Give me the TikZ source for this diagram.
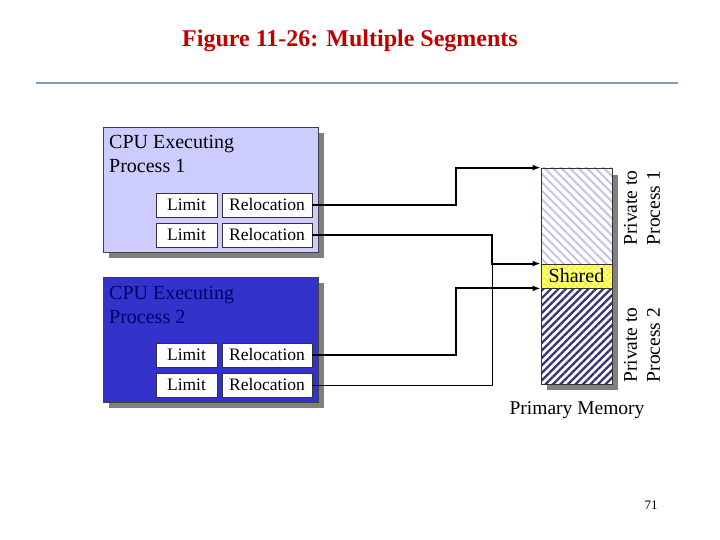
\documentclass[tikz,border=0pt]{standalone}
\usepackage{fontspec}
\setmainfont{Liberation Serif}
\usetikzlibrary{arrows.meta,patterns,patterns.meta}
\definecolor{boxone}{HTML}{CCCCFF}
\definecolor{boxtwo}{HTML}{3333CC}
\definecolor{navytext}{HTML}{000066}
\definecolor{shadowgray}{HTML}{808080}
\definecolor{titlered}{HTML}{C00000}
\definecolor{rulecol}{HTML}{7F9CC0}
\definecolor{lavline}{HTML}{C4C4E6}
\definecolor{navyline}{HTML}{33337A}
\definecolor{shareyel}{HTML}{FFFFA8}
\definecolor{checkyel}{HTML}{F8F800}
\pgfdeclarepatternformonly{mychecker}{\pgfpointorigin}{\pgfqpoint{6pt}{6pt}}{\pgfqpoint{6pt}{6pt}}{%
  \pgfpathrectangle{\pgfpointorigin}{\pgfqpoint{3pt}{3pt}}%
  \pgfpathrectangle{\pgfqpoint{3pt}{3pt}}{\pgfqpoint{3pt}{3pt}}%
  \pgfusepath{fill}}
\tikzset{
  cpubox/.style={draw=black!75, line width=0.8pt},
  shadowbox/.style={fill=shadowgray, draw=none},
  regbox/.style={draw=black!80, fill=white, line width=0.8pt, minimum height=24pt, inner sep=0pt, font=\fontsize{17.5}{20}\selectfont},
  limbox/.style={regbox, minimum width=61pt},
  relbox/.style={regbox, minimum width=90pt},
  boxtext/.style={anchor=base west, inner sep=0pt, font=\fontsize{20}{24}\selectfont},
  conn/.style={line width=2pt, -{Latex[length=8pt,width=6pt]}},
  thinconn/.style={line width=1pt},
  sidelabel/.style={rotate=90, align=center, inner sep=0pt, font=\fontsize{19.5}{23}\selectfont},
}
\begin{document}
\begin{tikzpicture}[x=1pt,y=-1pt]
\useasboundingbox (0,0) rectangle (720,540);
% title
\node[font=\fontsize{24}{26}\bfseries\selectfont, text=titlered, anchor=base] (title) at (350,47) {Figure 11-26: Multiple Segments};
\draw[rulecol, line width=2pt] (36,83) -- (678,83);

% box 1
\fill[shadowbox] (109,133) rectangle (324,258);
\draw[cpubox, fill=boxone] (103,127) rectangle (318,252);
\node[boxtext] (cpu1a) at (109,149) {CPU Executing};
\node[boxtext] (cpu1b) at (109,173) {Process 1};
\node[limbox] (l11) at (186.5,205) {Limit};
\node[relbox] (r11) at (267,205) {Relocation};
\node[limbox] (l12) at (186.5,235) {Limit};
\node[relbox] (r12) at (267,235) {Relocation};

% box 2
\fill[shadowbox] (109,283) rectangle (324,408);
\draw[cpubox, fill=boxtwo] (103,277) rectangle (318,402);
\node[boxtext, text=navytext] (cpu2a) at (109,299) {CPU Executing};
\node[boxtext, text=navytext] (cpu2b) at (109,323) {Process 2};
\node[limbox] (l21) at (186.5,355) {Limit};
\node[relbox] (r21) at (267,355) {Relocation};
\node[limbox] (l22) at (186.5,385) {Limit};
\node[relbox] (r22) at (267,385) {Relocation};

% memory
\fill[shadowbox] (547,175) rectangle (618,390);
\fill[white] (541,168) rectangle (612,384);
\pattern[pattern={Lines[angle=-45,distance=6pt,line width=2pt]}, pattern color=lavline] (541,168) rectangle (612,264);
\fill[shareyel] (541,264) rectangle (612,288);
\pattern[pattern=mychecker, pattern color=checkyel] (541,264) rectangle (612,288);
\pattern[pattern={Lines[angle=45,distance=5.3pt,line width=2.2pt]}, pattern color=navyline] (541,288) rectangle (612,384);
\node[draw=black!80, line width=0.8pt, minimum width=71pt, minimum height=96pt, inner sep=0pt] (mem1) at (576.5,216) {};
\node[draw=black!80, line width=0.8pt, minimum width=71pt, minimum height=24pt, inner sep=0pt, font=\fontsize{20}{22}\selectfont] (shared) at (576.5,276) {Shared};
\node[draw=black!80, line width=0.8pt, minimum width=71pt, minimum height=96pt, inner sep=0pt] (mem2) at (576.5,336) {};
\node[font=\fontsize{19.5}{22}\selectfont, anchor=base] (pm) at (577,414) {Primary Memory};
\node[sidelabel] (lab1) at (642,208) {Private to\\Process 1};
\node[sidelabel] (lab2) at (642,345) {Private to\\Process 2};

% connectors
\coordinate (c1) at (456,0);
\coordinate (c2) at (492,0);
\draw[conn] (r11.east) -- (r11.east -| c1) |- (mem1.north west);
\draw[conn] (r12.east) -- (r12.east -| c2) |- (shared.north west);
\draw[conn] (r21.east) -- (r21.east -| c1) |- (shared.south west);
\draw[thinconn] (r22.east) -| (c2 |- shared.north west);

\node[font=\fontsize{13}{15}\selectfont, anchor=base] (pg) at (651,509) {71};
\end{tikzpicture}
\end{document}
